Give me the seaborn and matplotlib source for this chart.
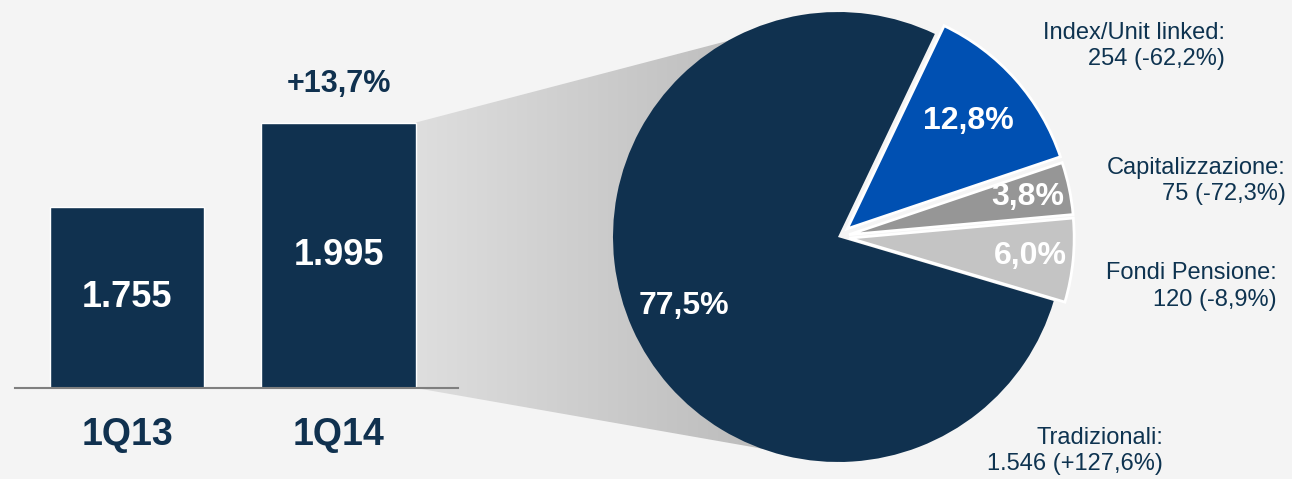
import numpy as np
import matplotlib
matplotlib.use("Agg")
import matplotlib.pyplot as plt
from matplotlib.colors import LinearSegmentedColormap
from matplotlib.patches import Polygon
import seaborn as sns

# dati
quarters = ["1Q13", "1Q14"]
premiums = [1755, 1995]

pie_names = ["Index/Unit linked", "Capitalizzazione", "Fondi Pensione", "Tradizionali"]
pie_amounts = [254, 75, 120, 1546]
pie_shares = [12.8, 3.8, 6.0, 77.5]
pie_changes = ["-62,2%", "-72,3%", "-8,9%", "+127,6%"]

NAVY = "#10314F"
BLUE = "#0050B2"
BG = "#F4F4F4"
pie_colors = [BLUE, "#969696", "#C4C4C4", NAVY]

sns.set_theme(style="white")
plt.rcParams["font.family"] = ["Liberation Sans", "DejaVu Sans"]

W, H = 1292, 479
fig = plt.figure(figsize=(W / 100, H / 100), dpi=100, facecolor=BG)


def px_rect(left, top, width, height):
    return [left / W, 1 - (top + height) / H, width / W, height / H]


def it_num(v):
    return f"{v:,}".replace(",", ".")


# background axes (funnel)
ax_bg = fig.add_axes([0, 0, 1, 1], zorder=0)
ax_bg.set_xlim(0, W)
ax_bg.set_ylim(0, H)
ax_bg.set_facecolor(BG)
ax_bg.axis("off")

# --- bar chart ---
ax_bar = fig.add_axes(px_rect(15, 0, 443, 388), zorder=2)
ax_bar.set_facecolor("none")
sns.barplot(x=quarters, y=premiums, color=NAVY, saturation=1, width=0.73, ax=ax_bar)
ax_bar.set_xlim(-0.53, 1.565)
y0 = 1237
ax_bar.set_ylim(y0, 2345)
ax_bar.set_yticks([])
ax_bar.set_xlabel("")
ax_bar.set_ylabel("")
for s in ["top", "left", "right"]:
    ax_bar.spines[s].set_visible(False)
ax_bar.spines["bottom"].set_color("#7F7F7F")
ax_bar.spines["bottom"].set_linewidth(1.5)
ax_bar.tick_params(axis="x", length=0, pad=21)
for lbl in ax_bar.get_xticklabels():
    lbl.set_fontsize(27)
    lbl.set_fontweight("bold")
    lbl.set_color(NAVY)

for i, v in enumerate(premiums):
    ax_bar.text(i, (v + y0) / 2, it_num(v), ha="center", va="center",
                color="white", fontsize=26, fontweight="bold")

growth = (premiums[1] / premiums[0] - 1) * 100
ax_bar.annotate(f"{growth:+.1f}%".replace(".", ","), xy=(1, premiums[1]),
                xytext=(0, 17), textcoords="offset points", ha="center", va="bottom",
                color=NAVY, fontsize=22, fontweight="bold", annotation_clip=False)

# --- pie ---
R = 225
ax_pie = fig.add_axes(px_rect(838 - 1.1 * R, 237 - 1.1 * R, 2.2 * R, 2.2 * R), zorder=1)
ax_pie.set_facecolor("none")
wedges, _ = ax_pie.pie(pie_amounts, colors=pie_colors, startangle=64.5, counterclock=False,
                       explode=[0.055, 0.05, 0.05, 0], radius=1,
                       wedgeprops=dict(edgecolor="white", linewidth=2))
wedges[3].set_linewidth(0)
ax_pie.set_xlim(-1.1, 1.1)
ax_pie.set_ylim(-1.1, 1.1)
ax_pie.axis("off")

pct_dist = [0.72, 0.81, 0.81, 0.75]
for w, share, d in zip(wedges, pie_shares, pct_dist):
    mid = np.deg2rad((w.theta1 + w.theta2) / 2)
    cx, cy = w.center
    ax_pie.text(cx + d * np.cos(mid), cy + d * np.sin(mid), f"{share:.1f}%".replace(".", ","),
                ha="center", va="center", color="white", fontsize=23, fontweight="bold")

label_pos = [(1.72, 0.85), (1.99, 0.25), (1.95, -0.22), (1.445, -0.95)]
for name, amt, chg, (lx, ly) in zip(pie_names, pie_amounts, pie_changes, label_pos):
    ax_pie.text(lx, ly, f"{name}:\n{it_num(amt)} ({chg})", ha="right", va="center",
                multialignment="right", linespacing=1.25, color="#0E3350", fontsize=17,
                clip_on=False)

# --- funnel from the 1Q14 bar to the pie ---
bar = ax_bar.patches[1]
xr = bar.get_x() + bar.get_width()
inv = ax_bg.transData.inverted()
p_top = inv.transform(ax_bar.transData.transform((xr, bar.get_height())))
p_bot = inv.transform(ax_bar.transData.transform((xr, y0)))
q_top = inv.transform(ax_pie.transData.transform((0, 1)))
q_bot = inv.transform(ax_pie.transData.transform((0, -1)))
poly = Polygon([p_top, q_top, q_bot, p_bot], closed=True, facecolor="none", edgecolor="none")
ax_bg.add_patch(poly)
cmap = LinearSegmentedColormap.from_list("funnel", ["#DEDEDE", "#B4B4B4"])
grad = np.linspace(0, 1, 256)[None, :]
img = ax_bg.imshow(grad, cmap=cmap, aspect="auto",
                   extent=[p_top[0], q_top[0], q_bot[1], q_top[1]], zorder=0)
img.set_clip_path(poly)
ax_bg.set_xlim(0, W)
ax_bg.set_ylim(0, H)

fig.savefig("out.png", dpi=100, facecolor=BG)
